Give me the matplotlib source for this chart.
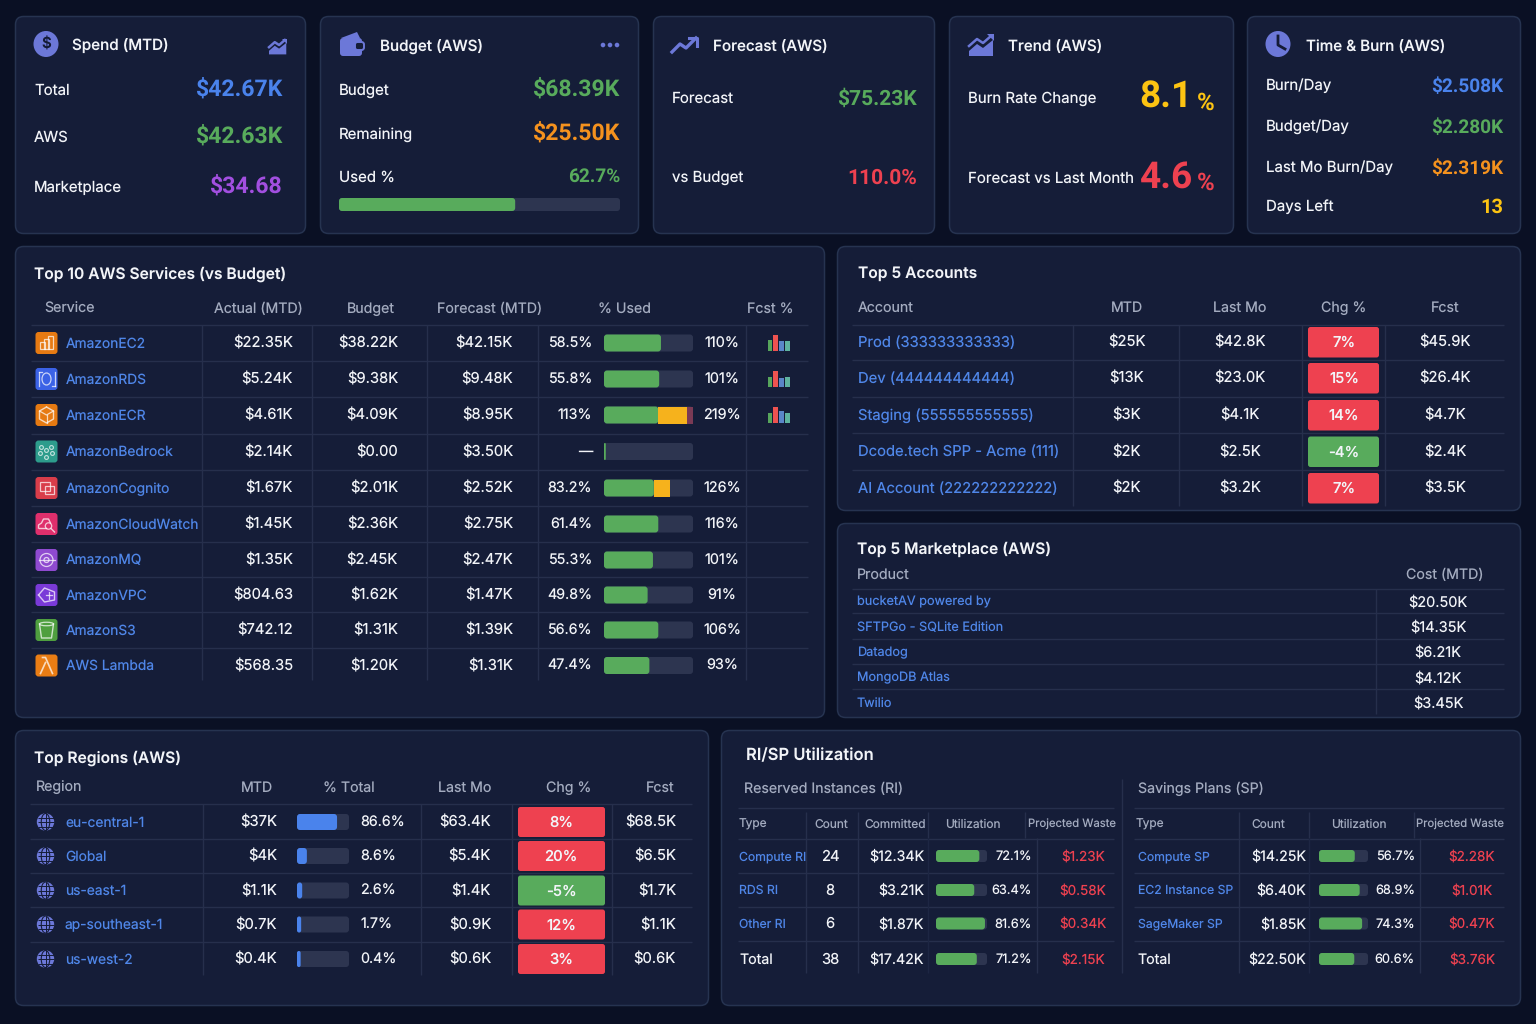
import matplotlib
matplotlib.use("Agg")
import numpy as np
import matplotlib.pyplot as plt
from matplotlib.patches import FancyBboxPatch, Circle, Rectangle, Polygon, Ellipse

plt.rcParams['font.family'] = ['Inter', 'Noto Sans', 'DejaVu Sans']
plt.rcParams['text.hinting'] = 'no_hinting'
plt.rcParams['text.hinting_factor'] = 1

# ---------- data ----------
spend_labels = ["Total", "AWS", "Marketplace"]
spend_values = ["$42.67K", "$42.63K", "$34.68"]
budget_labels = ["Budget", "Remaining", "Used %"]
budget_values = ["$68.39K", "$25.50K", "62.7%"]
budget_used_frac = 0.627
forecast_labels = ["Forecast", "vs Budget"]
forecast_values = ["$75.23K", "110.0%"]
trend_labels = ["Burn Rate Change", "Forecast vs Last Month"]
trend_values = ["8.1", "4.6"]
time_labels = ["Burn/Day", "Budget/Day", "Last Mo Burn/Day", "Days Left"]
time_values = ["$2.508K", "$2.280K", "$2.319K", "13"]

svc_names = ["AmazonEC2", "AmazonRDS", "AmazonECR", "AmazonBedrock", "AmazonCognito",
             "AmazonCloudWatch", "AmazonMQ", "AmazonVPC", "AmazonS3", "AWS Lambda"]
svc_actual = ["$22.35K", "$5.24K", "$4.61K", "$2.14K", "$1.67K", "$1.45K", "$1.35K", "$804.63", "$742.12", "$568.35"]
svc_budget = ["$38.22K", "$9.38K", "$4.09K", "$0.00", "$2.01K", "$2.36K", "$2.45K", "$1.62K", "$1.31K", "$1.20K"]
svc_forecast = ["$42.15K", "$9.48K", "$8.95K", "$3.50K", "$2.52K", "$2.75K", "$2.47K", "$1.47K", "$1.39K", "$1.31K"]
svc_used = ["58.5%", "55.8%", "113%", "—", "83.2%", "61.4%", "55.3%", "49.8%", "56.6%", "47.4%"]
svc_fcst = ["110%", "101%", "219%", "", "126%", "116%", "101%", "91%", "106%", "93%"]
svc_green = [0.64, 0.62, 0.61, 0.02, 0.56, 0.61, 0.55, 0.49, 0.61, 0.51]
svc_amber = [0, 0, 0.32, 0, 0.18, 0, 0, 0, 0, 0]
svc_red = [0, 0, 0.07, 0, 0, 0, 0, 0, 0, 0]
svc_icon_colors = ["#e67a12", "#3b62e6", "#e67a12", "#2d9c8c", "#d93d4a",
                   "#df2f6c", "#8f4ad0", "#7a3ad8", "#4f9f3f", "#ea7d14"]
spark_heights = [[0.68, 1.0, 0.62, 0.65], [0.65, 1.0, 0.55, 0.62], [0.62, 1.0, 0.72, 0.62]]
spark_colors = ["#57a55c", "#ee5350", "#5a86c8", "#5fb39f"]

acc_names = ["Prod (333333333333)", "Dev (444444444444)", "Staging (555555555555)",
             "Dcode.tech SPP - Acme (111)", "AI Account (222222222222)"]
acc_mtd = ["$25K", "$13K", "$3K", "$2K", "$2K"]
acc_last = ["$42.8K", "$23.0K", "$4.1K", "$2.5K", "$3.2K"]
acc_chg = [7, 15, 14, -4, 7]
acc_fcst = ["$45.9K", "$26.4K", "$4.7K", "$2.4K", "$3.5K"]

mkt_names = ["bucketAV powered by", "SFTPGo - SQLite Edition", "Datadog", "MongoDB Atlas", "Twilio"]
mkt_costs = ["$20.50K", "$14.35K", "$6.21K", "$4.12K", "$3.45K"]

reg_names = ["eu-central-1", "Global", "us-east-1", "ap-southeast-1", "us-west-2"]
reg_mtd = ["$37K", "$4K", "$1.1K", "$0.7K", "$0.4K"]
reg_pct = ["86.6%", "8.6%", "2.6%", "1.7%", "0.4%"]
reg_frac = [0.77, 0.19, 0.10, 0.08, 0.07]
reg_last = ["$63.4K", "$5.4K", "$1.4K", "$0.9K", "$0.6K"]
reg_chg = [8, 20, -5, 12, 3]
reg_fcst = ["$68.5K", "$6.5K", "$1.7K", "$1.1K", "$0.6K"]

ri_types = ["Compute RI", "RDS RI", "Other RI", "Total"]
ri_count = ["24", "8", "6", "38"]
ri_commit = ["$12.34K", "$3.21K", "$1.87K", "$17.42K"]
ri_util = [72.1, 63.4, 81.6, 71.2]
ri_frac = [0.85, 0.75, 0.96, 0.80]
ri_waste = ["$1.23K", "$0.58K", "$0.34K", "$2.15K"]

sp_types = ["Compute SP", "EC2 Instance SP", "SageMaker SP", "Total"]
sp_commit = ["$14.25K", "$6.40K", "$1.85K", "$22.50K"]
sp_util = [56.7, 68.9, 74.3, 60.6]
sp_frac = [0.73, 0.83, 0.88, 0.72]
sp_waste = ["$2.28K", "$1.01K", "$0.47K", "$3.76K"]

# ---------- palette ----------
BG = "#0a1024"
PANEL = "#151d38"
EDGE = "#263350"
LINE = "#262f4c"
FAINT = "#1d2643"
TRACK = "#2d3550"
WHITE = "#f2f4f8"
MUTED = "#a3abbf"
LINK = "#4f86e8"
GREEN = "#58ab5c"
BLUE = "#4a83ec"
ORANGE = "#f5921e"
PURPLE = "#a24fe0"
RED = "#ee4150"
YELLOW = "#fcc312"
AMBER = "#f6b21c"
ICON = "#6c78d8"
GLYPH = "#ffffffb8"

fig = plt.figure(figsize=(15.36, 10.24), dpi=100, facecolor=BG)
ax = fig.add_axes([0, 0, 1, 1])
ax.set_xlim(0, 1536)
ax.set_ylim(1024, 0)
ax.axis("off")


def T(x, y, s, px=15, c=WHITE, ha="left", w="normal", fam=None):
    kw = {"family": [fam, "Inter", "DejaVu Sans"]} if fam else {}
    ax.text(x, y + 0.8, s, fontsize=px * 0.72, color=c, ha=ha, va="center", fontweight=w, **kw)


def BIG(x, y, s, px, c, ha="right"):
    T(x, y, s, px, c, ha, "bold", "Roboto")


def rr(x, y, w, h, r, fc, ec="none", lw=0, z=2):
    ax.add_patch(FancyBboxPatch((x, y), w, h, boxstyle=f"round,pad=0,rounding_size={r}",
                                fc=fc, ec=ec, lw=lw, zorder=z))


def panel(x0, y0, x1, y1):
    rr(x0 + 0.5, y0 + 0.5, x1 - x0 - 1, y1 - y0 - 1, 8, PANEL, EDGE, 1.1, 1)


def H(x0, x1, y, c=LINE, lw=1.0, z=2):
    ax.plot([x0, x1], [y, y], color=c, lw=lw, zorder=z, solid_capstyle="butt")


def V(x, y0, y1, c=LINE, lw=1.0, z=2):
    ax.plot([x, x], [y0, y1], color=c, lw=lw, zorder=z, solid_capstyle="butt")


def stacked(x, y, w, h, fracs, colors):
    rr(x, y - h / 2, w, h, 3, TRACK, z=3)
    start = 0
    for i, (f, c) in enumerate(zip(fracs, colors)):
        if f <= 0:
            continue
        if i == 0:
            rr(x, y - h / 2, w * f, h, min(3, w * f / 2), c, z=4)
        else:
            ax.add_patch(Rectangle((x + w * start, y - h / 2), w * f, h, fc=c, ec="none", zorder=4))
        start += f


def trend_icon(x, y, s=1.0, area=True):
    if area:
        poly = np.array([[0, 20], [0, 15], [8, 8], [14, 12], [24, 4], [24, 20]]) * s
        ax.add_patch(Polygon(poly + [x, y], fc=ICON, ec="none", zorder=3))
        pts = np.array([[0, 10], [8, 3], [14, 7], [22, 0]]) * s
        ax.plot(pts[:, 0] + x, pts[:, 1] + y, color=ICON, lw=1.8, zorder=4)
        ax.add_patch(Polygon(np.array([[18, -2], [25, -2], [25, 5]]) * s + [x, y], fc=ICON, ec="none", zorder=4))
    else:
        pts = np.array([[0, 14], [8, 6], [14, 10], [24, 0]]) * s
        ax.plot(pts[:, 0] + x, pts[:, 1] + y, color=ICON, lw=2.4, zorder=4)
        ax.plot([x + 17 * s, x + 25 * s, x + 25 * s], [y, y, y + 8 * s], color=ICON, lw=2.2, zorder=4)


def L(x, y, pts, lw=0.9):
    a = np.array(pts, float)
    ax.plot(a[:, 0] + x, a[:, 1] + y, color=GLYPH, lw=lw, zorder=5)


def service_glyph(i, x, y):
    if i == 0:      # layered boxes
        for dx, h in [(-7, 7), (-3, 10), (1, 13)]:
            ax.add_patch(Rectangle((x + dx, y + 6 - h), 5, h, fc="none", ec=GLYPH, lw=0.9, zorder=5))
    elif i == 1:    # database frame
        ax.add_patch(Ellipse((x, y), 9, 12, fc="none", ec=GLYPH, lw=0.9, zorder=5))
        L(x, y, [(-8, -7), (-8, 7)]); L(x, y, [(8, -7), (8, 7)])
        L(x, y, [(-8, -7), (-5, -7)]); L(x, y, [(5, 7), (8, 7)])
    elif i == 2:    # cube
        L(x, y, [(0, -8), (7, -4), (7, 4), (0, 8), (-7, 4), (-7, -4), (0, -8)], 1.0)
        L(x, y, [(-7, -4), (0, 0), (7, -4)]); L(x, y, [(0, 0), (0, 8)])
    elif i == 3:    # brain-like nodes
        for dx, dy in [(-5, -4), (5, -4), (-6, 2), (6, 2), (0, 6), (0, -1)]:
            ax.add_patch(Circle((x + dx, y + dy), 1.9, fc="none", ec=GLYPH, lw=0.8, zorder=5))
    elif i == 4:    # cards
        ax.add_patch(Rectangle((x - 7, y - 6), 10, 9, fc="none", ec=GLYPH, lw=0.9, zorder=5))
        ax.add_patch(Rectangle((x - 2, y - 2), 9, 8, fc="none", ec=GLYPH, lw=0.9, zorder=5))
    elif i == 5:    # cloud and lens
        L(x, y, [(-8, 4), (-8, 1), (-5, -1), (-3, -5), (2, -5), (4, -1)], 1.0)
        L(x, y, [(-8, 4), (-1, 4)], 1.0)
        ax.add_patch(Circle((x + 2, y + 2), 3.2, fc="none", ec=GLYPH, lw=0.9, zorder=5))
        L(x, y, [(4.5, 4.5), (8, 8)], 1.0)
    elif i == 6:    # ring of nodes
        ax.add_patch(Circle((x, y), 6.5, fc="none", ec=GLYPH, lw=0.9, zorder=5))
        ax.add_patch(Circle((x, y), 2.5, fc="none", ec=GLYPH, lw=0.9, zorder=5))
        L(x, y, [(-8, 0), (8, 0)])
    elif i == 7:    # cloud network
        L(x, y, [(-8, 0), (-2, -7), (8, -3), (8, 5), (-2, 7), (-8, 0)], 1.0)
        L(x, y, [(2, -3), (2, 4)]); L(x, y, [(-1, 0), (5, 0)])
    elif i == 8:    # bucket
        ax.add_patch(Ellipse((x, y - 6), 14, 3.5, fc="none", ec=GLYPH, lw=0.9, zorder=5))
        L(x, y, [(-7, -6), (-5, 8), (5, 8), (7, -6)], 1.0)
    else:           # lambda
        L(x, y, [(-4, -8), (-1, -8), (6, 8)], 1.2)
        L(x, y, [(-1, -3), (-6, 8)], 1.2)


# ---------- KPI cards ----------
for box in [(15, 16, 306, 234), (320, 16, 639, 234), (653, 16, 935, 234),
            (949, 16, 1234, 234), (1247, 16, 1521, 234)]:
    panel(*box)

# Spend
ax.add_patch(Ellipse((46, 44), 25, 26, fc=ICON, ec="none", zorder=3))
T(46, 43.5, "$", 15, "#141b36", "center", "semibold")
T(72, 45, "Spend (MTD)", 15.2, WHITE, w="medium")
trend_icon(269, 40, 0.72)
for lab, val, y, col in zip(spend_labels, spend_values, [90, 137, 187], [BLUE, GREEN, PURPLE]):
    T(34, y, lab, 15)
    BIG(283, y - 1, val, 23.2, col)

# Budget
rr(340, 38, 22, 18, 3, ICON, z=3)
ax.add_patch(Polygon([[341, 38], [357, 32], [360, 38]], fc=ICON, ec="none", zorder=3))
rr(355, 42, 9, 8, 2.5, PANEL, ICON, 1.4, 4)
T(380, 46, "Budget (AWS)", 15.2, WHITE, w="medium")
for cx in [603, 610, 617]:
    ax.add_patch(Circle((cx, 45), 2.3, fc=ICON, ec="none", zorder=3))
for lab, val, y, col, vs in zip(budget_labels, budget_values, [90, 134, 177], [GREEN, ORANGE, GREEN], [23.2, 23.2, 19]):
    T(339, y, lab, 15)
    BIG(620, y - 1, val, vs, col)
stacked(339, 204.5, 281, 13, [budget_used_frac], [GREEN])

# Forecast
trend_icon(672, 38, 1.0, area=False)
T(713, 46, "Forecast (AWS)", 15.2, WHITE, w="medium")
for lab, val, y, col, vs in zip(forecast_labels, forecast_values, [98, 177], [GREEN, RED], [21.4, 21.4]):
    T(672, y, lab, 15)
    BIG(917, y, val, vs, col)

# Trend
trend_icon(969, 36, 1.0)
T(1008, 46, "Trend (AWS)", 15.2, WHITE, w="medium")
for lab, val, y, col in zip(trend_labels, trend_values, [98, 178], [YELLOW, RED]):
    T(968, y, lab, 15)
    BIG(1193, y - 1, val, 37, col)
    T(1214.5, y + 4.5, "%", 24.5, col, "right", "semibold", "Roboto")

# Time
ax.add_patch(Ellipse((1278, 44), 25, 26, fc=ICON, ec="none", zorder=3))
ax.plot([1278, 1278, 1285], [36, 45, 49], color="#141b36", lw=2, zorder=4)
T(1306, 46, "Time & Burn (AWS)", 15.2, WHITE, w="medium")
for lab, val, y, col, vs in zip(time_labels, time_values, [85, 126, 167, 206], [BLUE, GREEN, ORANGE, YELLOW], [19, 19, 19, 20]):
    T(1266, y, lab, 15)
    BIG(1503, y + 1, val, vs, col)

# ---------- Top services ----------
panel(15, 246, 825, 718)
T(34, 273, "Top 10 AWS Services (vs Budget)", 15.6, WHITE, w="semibold")
for x, s, ha in [(44, "Service", "left"), (258, "Actual (MTD)", "center"), (371, "Budget", "center"),
                 (490, "Forecast (MTD)", "center"), (624, "% Used", "center"), (770, "Fcst %", "center")]:
    T(x, 308, s, 14.2, MUTED, ha)
svc_y = [343, 379, 415, 451.5, 488, 524, 560, 595, 630, 665.5]
svc_lines = [325, 361, 397, 433.5, 470, 506, 541.5, 577, 612, 647.5]
for y in svc_lines:
    H(31, 808, y)
for x in [202, 312, 427, 538, 746]:
    V(x, 325, 680)
for i, y in enumerate(svc_y):
    rr(35.5, y - 11, 22, 22, 3, svc_icon_colors[i], z=3)
    service_glyph(i, 46.5, y)
    T(66, y, svc_names[i], 13.8, LINK)
    T(293, y, svc_actual[i], 14.8, WHITE, "right")
    T(398, y, svc_budget[i], 14.8, WHITE, "right")
    T(513, y, svc_forecast[i], 14.8, WHITE, "right")
    T(592, y, svc_used[i], 14.3, WHITE, "right")
    stacked(604, y, 89, 17, [svc_green[i], svc_amber[i], svc_red[i]], [GREEN, AMBER, "#7a3a55"])
    if svc_fcst[i]:
        T(722, y, svc_fcst[i], 14.4, WHITE, "center")
    if i < len(spark_heights):
        for j, hgt in enumerate(spark_heights[i]):
            h = 16 * hgt
            ax.add_patch(Rectangle((767.5 + j * 5.8, y + 8 - h), 4.6, h, fc=spark_colors[j], ec="none", zorder=4))

# ---------- Top accounts ----------
panel(837, 246, 1521, 511)
T(858, 273, "Top 5 Accounts", 15.6, WHITE, w="semibold")
for x, s, ha in [(858, "Account", "left"), (1127, "MTD", "center"), (1240, "Last Mo", "center"),
                 (1344, "Chg %", "center"), (1445, "Fcst", "center")]:
    T(x, 307, s, 14.2, MUTED, ha)
acc_y = [342, 378, 415, 451.5, 488]
for y in [325, 360, 396.5, 433, 470]:
    H(852, 1504, y)
for x in [1073, 1179, 1302, 1385]:
    V(x, 325, 506)
for i, y in enumerate(acc_y):
    T(858, y, acc_names[i], 14.8, LINK)
    T(1127, y, acc_mtd[i], 14.8, WHITE, "center")
    T(1240, y, acc_last[i], 14.8, WHITE, "center")
    col = RED if acc_chg[i] > 0 else GREEN
    rr(1308, y - 15, 71, 30.5, 2.5, col, z=3)
    T(1344, y, f"{acc_chg[i]}%", 14.8, WHITE, "center", "medium")
    T(1445, y, acc_fcst[i], 14.8, WHITE, "center")

# ---------- Marketplace ----------
panel(837, 523, 1521, 718)
T(857, 548, "Top 5 Marketplace (AWS)", 15.6, WHITE, w="semibold")
T(857, 574, "Product", 14.2, MUTED)
T(1445, 574, "Cost (MTD)", 14.2, MUTED, "center")
for y in [589, 613, 638.5, 663.5, 689]:
    H(852, 1504, y)
V(1376, 589, 714)
for y, n, c in zip([601.5, 627, 652, 677.5, 702.5], mkt_names, mkt_costs):
    T(857, y, n, 12.7, LINK)
    T(1438, y, c, 14.5, WHITE, "center")

# ---------- Regions ----------
panel(15, 730, 709, 1006)
T(34, 757, "Top Regions (AWS)", 15.6, WHITE, w="semibold")
for x, s, ha in [(36, "Region", "left"), (257, "MTD", "center"), (349, "% Total", "center"),
                 (465, "Last Mo", "center"), (569, "Chg %", "center"), (660, "Fcst", "center")]:
    T(x, 787, s, 14.2, MUTED, ha)
reg_y = [822, 856, 890.5, 924.5, 959]
for y in [804, 838.5, 873, 907, 941.5]:
    H(30, 692, y)
for x in [203, 421, 512, 612]:
    V(x, 804, 975)
for i, y in enumerate(reg_y):
    ax.add_patch(Circle((45.5, y), 8.7, fc=ICON, ec="none", zorder=3))
    ax.add_patch(Ellipse((45.5, y), 8.5, 17, fc="none", ec=PANEL, lw=0.8, zorder=4))
    for dy in (-4.5, 0, 4.5):
        H(37.5, 53.5, y + dy, PANEL, 0.7, 4)
    V(45.5, y - 8.7, y + 8.7, PANEL, 0.7, 4)
    T(65, y, reg_names[i], 13.8, LINK)
    T(277, y, reg_mtd[i], 14.8, WHITE, "right")
    stacked(297, y, 52, 16, [reg_frac[i]], [BLUE])
    T(360, y, reg_pct[i], 14.3, WHITE, "left")
    T(491, y, reg_last[i], 14.8, WHITE, "right")
    col = RED if reg_chg[i] > 0 else GREEN
    rr(518, y - 15, 87, 30, 2.5, col, z=3)
    T(561, y, f"{reg_chg[i]}%", 14.8, WHITE, "center", "medium")
    T(676, y, reg_fcst[i], 14.8, WHITE, "right")

# ---------- RI / SP ----------
panel(721, 730, 1521, 1006)
T(746, 755, "RI/SP Utilization", 16.6, WHITE, w="semibold")
T(744, 788, "Reserved Instances (RI)", 14.2, MUTED)
T(1138, 788, "Savings Plans (SP)", 14.2, MUTED)
V(1122, 779, 973)
ty = [856, 890, 923.5, 959]
for x0, x1 in [(738, 1114), (1134, 1504)]:
    for y in [807.5, 838.5, 872.5, 906.5, 941]:
        H(x0, x1, y)
# RI header
for x, s, ha, px in [(739, "Type", "left", 11.9), (831, "Count", "center", 11.9), (895, "Committed", "center", 11.9),
                     (973, "Utilization", "center", 11.9), (1072, "Projected Waste", "center", 11.3)]:
    T(x, 824, s, px, MUTED, ha)
for x in [806, 858]:
    V(x, 812, 973)
V(928, 812, 838)
V(928, 838, 973, FAINT)
V(1025, 812, 838)
V(1037, 838, 973)
for i, y in enumerate(ty):
    c = LINK if i < 3 else WHITE
    T(739, y, ri_types[i], 12.2 if i < 3 else 14.2, c)
    T(830, y, ri_count[i], 14.8, WHITE, "center")
    T(924, y, ri_commit[i], 14.2, WHITE, "right")
    stacked(936, y, 51, 12, [ri_frac[i]], [GREEN])
    T(1032, y, f"{ri_util[i]}%", 12.8, WHITE, "right")
    T(1083, y, ri_waste[i], 13.5, RED, "center")
# SP header
for x, s, ha, px in [(1136, "Type", "left", 11.9), (1268, "Count", "center", 11.9), (1359, "Utilization", "center", 11.9),
                     (1460, "Projected Waste", "center", 11.3)]:
    T(x, 824, s, px, MUTED, ha)
V(1239, 812, 973)
V(1309, 812, 838)
V(1309, 838, 973, FAINT)
V(1414, 812, 838)
V(1420, 838, 973)
for i, y in enumerate(ty):
    c = LINK if i < 3 else WHITE
    T(1138 if i < 3 else 1137, y, sp_types[i], 12.2 if i < 3 else 14.2, c)
    T(1306, y, sp_commit[i], 14.2, WHITE, "right")
    stacked(1319, y, 49, 12, [sp_frac[i]], [GREEN])
    T(1415, y, f"{sp_util[i]}%", 12.8, WHITE, "right")
    T(1472, y, sp_waste[i], 13.5, RED, "center")

fig.savefig("out.png", dpi=100, facecolor=BG)
